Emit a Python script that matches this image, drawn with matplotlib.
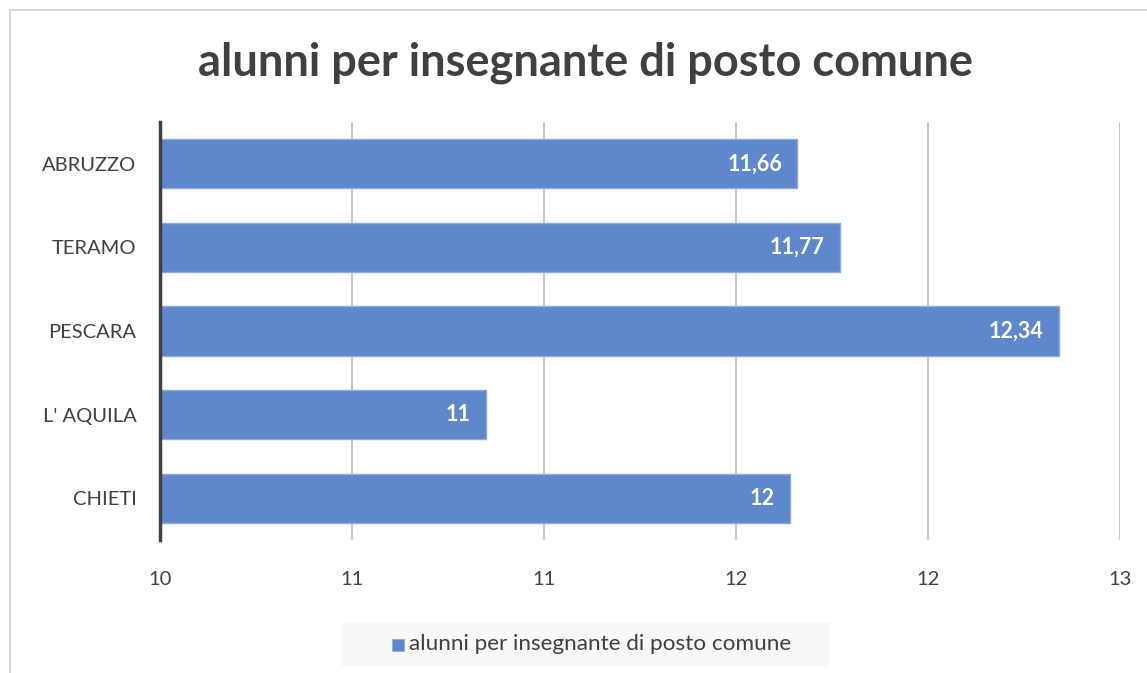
import matplotlib
matplotlib.use("Agg")
import matplotlib.pyplot as plt
from matplotlib.patches import Rectangle

categories = ["ABRUZZO", "TERAMO", "PESCARA", "L' AQUILA", "CHIETI"]
values = [11.66, 11.77, 12.34, 10.85, 11.64]
value_labels = ["11,66", "11,77", "12,34", "11", "12"]
xticks = [10, 10.5, 11, 11.5, 12, 12.5]
xtick_labels = ["10", "11", "11", "12", "12", "13"]
title = "alunni per insegnante di posto comune"
series_name = "alunni per insegnante di posto comune"

W, H = 1147, 673
fig = plt.figure(figsize=(W / 100, H / 100), dpi=100)
plt.rcParams['font.family'] = ['Lato', 'DejaVu Sans']

# chart frame
fig.patches.append(Rectangle((10 / W, -0.01), (W + 20) / W, 1 - 10 / H + 0.01,
                             transform=fig.transFigure, fill=False,
                             edgecolor="#d0d0d0", linewidth=1.2))

left, right, top, bottom = 160 / W, 1120 / W, 122 / H, 540 / H
ax = fig.add_axes([left, 1 - bottom, right - left, bottom - top])

bar_color = "#5f87cb"
ypos = list(range(len(categories)))
ax.barh(ypos, [v - 10 for v in values], left=10, height=0.59,
        color=bar_color, edgecolor="#8eaadb", linewidth=1, zorder=2)

for y, v, lab in zip(ypos, values, value_labels):
    ax.text(v - 0.04, y, lab, ha="right", va="center", color="white",
            fontsize=15.5, fontweight="bold", zorder=3)

ax.set_xlim(10, 12.5)
ax.set_ylim(len(categories) - 0.5, -0.5)
ax.set_xticks(xticks)
ax.set_xticklabels(xtick_labels)
ax.set_yticks(ypos)
ax.set_yticklabels(categories)
ax.tick_params(axis="both", length=0, labelsize=14.5, colors="#404040")
ax.tick_params(axis="x", pad=22)
ax.tick_params(axis="y", pad=17)
ax.grid(axis="x", color="#bfbfbf", linewidth=1.2, zorder=0)
for s in ["top", "right", "bottom"]:
    ax.spines[s].set_visible(False)
ax.spines["left"].set_color("#404040")
ax.spines["left"].set_linewidth(2.5)
ax.spines["left"].set_zorder(4)

fig.text((198 + 972) / 2 / W, 1 - 63 / H, title, ha="center", va="center",
         fontsize=32.5, fontweight="bold", color="#404040")

# legend
fig.patches.append(Rectangle((342 / W, 1 - 667 / H), (830 - 342) / W, 45 / H,
                             transform=fig.transFigure, facecolor="#f8f8f8",
                             edgecolor="none"))
fig.patches.append(Rectangle((392 / W, 1 - 651 / H), 12 / W, 12 / H,
                             transform=fig.transFigure, facecolor=bar_color,
                             edgecolor="#8eaadb", linewidth=0.5))
fig.text(409 / W, 1 - 644 / H, series_name, ha="left", va="center",
         fontsize=16.2, color="#404040")

fig.savefig("out.png", dpi=100, facecolor="white")
